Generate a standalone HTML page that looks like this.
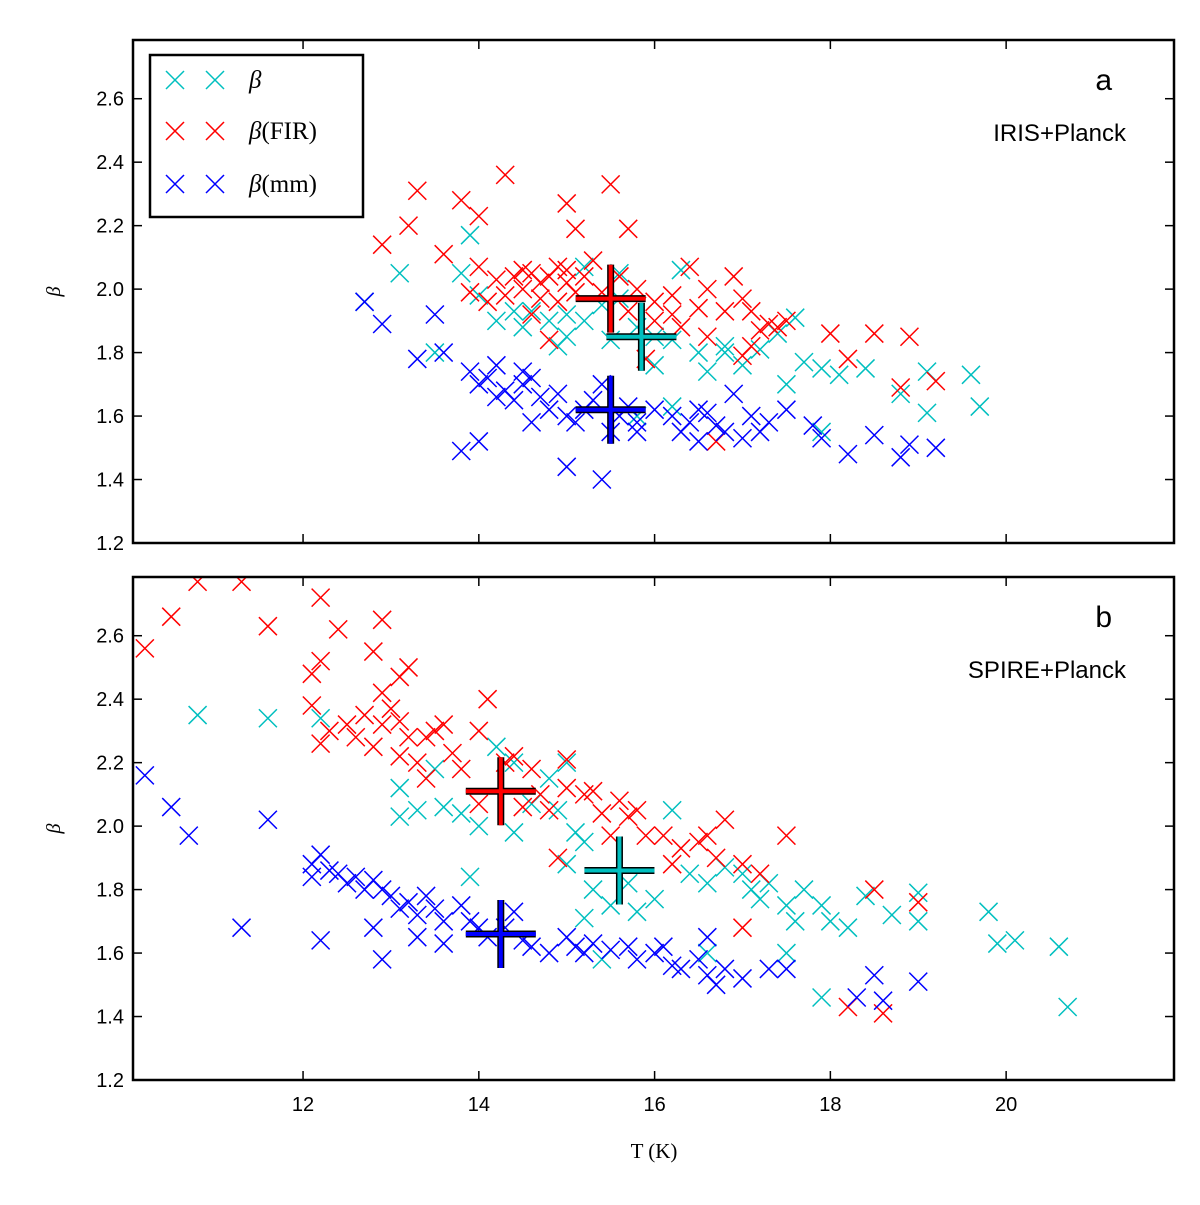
<!DOCTYPE html>
<html><head><meta charset="utf-8"><style>body{margin:0;background:#fff}svg{display:block}</style></head>
<body>
<svg id="chart" width="1200" height="1205" xmlns="http://www.w3.org/2000/svg" font-family="Liberation Sans, sans-serif"></svg>
<script>
// ---- data (T in K, beta) ----
const xTicks = [12, 14, 16, 18, 20];
const yTicks = [1.2, 1.4, 1.6, 1.8, 2.0, 2.2, 2.4, 2.6];
const seriesSuffix = ["", "(FIR)", "(mm)"];
const aCyanT = [12.7,13.1,13.8,13.9,14.0,14.2,14.5,14.6,14.8,15.0,15.2,15.4,15.2,15.6,15.0,14.9,15.5,15.8,16.0,16.2,16.3,16.0,16.5,16.6,16.8,17.0,17.2,17.4,17.6,17.5,17.7,17.9,18.1,18.4,18.8,19.1,19.1,19.6,19.7,17.9,16.8,16.2,15.8,15.6,14.4,13.5];
const aCyanB = [1.96,2.05,2.05,2.17,1.98,1.90,1.88,1.93,1.90,1.92,2.07,1.95,1.90,2.05,1.85,1.82,1.84,1.88,1.85,1.84,2.06,1.76,1.80,1.74,1.82,1.76,1.81,1.86,1.91,1.70,1.77,1.75,1.73,1.75,1.67,1.74,1.61,1.73,1.63,1.55,1.80,1.63,1.60,1.97,1.93,1.80];
const aRedT = [13.3,13.2,12.9,13.6,13.8,14.0,14.3,15.0,15.5,15.7,15.1,15.3,14.0,14.2,14.4,14.5,14.6,14.7,14.8,14.9,15.0,15.2,14.3,14.5,14.7,14.9,15.0,15.1,14.1,14.6,15.4,15.6,15.8,16.0,16.2,16.4,16.6,16.9,17.0,16.8,16.5,16.2,16.0,15.7,16.3,16.6,17.1,17.3,17.5,17.2,17.0,17.1,17.4,18.0,18.2,18.5,18.9,19.2,18.8,16.7,15.9,14.8,13.9];
const aRedB = [2.31,2.20,2.14,2.11,2.28,2.23,2.36,2.27,2.33,2.19,2.19,2.09,2.07,2.03,2.04,2.06,2.05,2.02,2.04,2.07,2.06,2.04,1.98,2.00,1.97,1.96,2.02,1.99,1.96,1.92,1.99,2.04,2.00,1.96,1.98,2.07,2.00,2.04,1.97,1.93,1.94,1.92,1.90,1.93,1.88,1.85,1.93,1.89,1.90,1.87,1.79,1.82,1.88,1.86,1.78,1.86,1.85,1.71,1.69,1.52,1.78,1.84,1.99];
const aBlueT = [12.7,12.9,13.5,13.3,13.6,13.9,14.0,14.1,14.2,14.3,14.4,14.5,14.6,14.7,14.8,14.9,15.0,15.1,15.2,15.3,15.4,15.5,15.6,15.7,15.8,16.0,16.2,16.3,16.4,16.5,16.6,16.7,16.8,17.0,17.1,17.2,17.3,17.5,17.8,17.9,18.2,18.5,18.8,18.9,19.2,14.0,13.8,15.0,15.4,16.9,14.6,14.2,14.5,15.8,16.5];
const aBlueB = [1.96,1.89,1.92,1.78,1.80,1.74,1.70,1.72,1.76,1.68,1.65,1.70,1.72,1.66,1.62,1.67,1.60,1.58,1.62,1.65,1.70,1.55,1.60,1.63,1.58,1.62,1.60,1.55,1.58,1.52,1.61,1.57,1.55,1.53,1.60,1.55,1.58,1.62,1.57,1.53,1.48,1.54,1.47,1.51,1.50,1.52,1.49,1.44,1.40,1.67,1.58,1.66,1.74,1.55,1.62];
const aMeanT = [15.85, 15.5, 15.5];
const aMeanB = [1.85, 1.97, 1.62];
const bCyanT = [10.8,11.6,12.2,13.1,13.1,13.3,13.5,13.6,13.8,14.0,14.2,14.4,14.6,14.8,15.0,14.9,15.1,15.2,15.0,15.3,15.5,15.7,15.8,16.0,16.2,16.4,16.6,16.8,17.0,17.1,17.2,17.3,17.5,17.6,17.7,17.9,18.0,18.2,18.4,18.7,19.0,19.0,19.8,19.9,20.1,20.6,20.7,17.9,17.5,15.4,13.9,14.4,15.2,16.6];
const bCyanB = [2.35,2.34,2.34,2.12,2.03,2.05,2.18,2.06,2.04,2.00,2.25,2.20,2.07,2.15,2.20,2.05,1.98,1.95,1.88,1.80,1.75,1.82,1.73,1.77,2.05,1.85,1.82,1.87,1.85,1.80,1.77,1.82,1.75,1.70,1.80,1.75,1.70,1.68,1.78,1.72,1.70,1.79,1.73,1.63,1.64,1.62,1.43,1.46,1.60,1.58,1.84,1.98,1.71,1.60];
const bRedT = [10.2,10.5,10.8,11.3,11.6,12.1,12.2,12.2,12.4,12.8,12.9,13.2,13.1,12.9,12.1,12.3,12.2,12.5,12.6,12.7,12.8,12.9,13.0,13.1,13.2,13.1,13.3,13.4,13.5,13.6,13.4,13.7,13.8,14.0,14.1,14.3,14.4,14.6,14.5,14.7,14.8,15.0,15.0,15.2,15.3,15.4,15.6,15.7,15.8,15.9,16.1,16.2,16.3,16.5,16.7,16.8,16.6,17.0,17.2,17.5,17.0,18.2,18.6,18.5,19.0,14.9,15.5,14.0];
const bRedB = [2.56,2.66,2.77,2.77,2.63,2.48,2.72,2.52,2.62,2.55,2.65,2.50,2.47,2.42,2.38,2.30,2.26,2.32,2.28,2.35,2.25,2.32,2.37,2.33,2.28,2.22,2.20,2.28,2.30,2.32,2.15,2.23,2.18,2.30,2.40,2.20,2.22,2.18,2.06,2.10,2.05,2.12,2.21,2.10,2.11,2.04,2.08,2.03,2.05,1.97,1.97,1.88,1.93,1.95,1.90,2.02,1.97,1.88,1.85,1.97,1.68,1.43,1.41,1.80,1.76,1.90,1.97,2.07];
const bBlueT = [10.2,10.5,10.7,11.6,11.3,12.2,12.1,12.2,12.1,12.3,12.4,12.5,12.6,12.7,12.8,12.9,13.0,13.1,13.2,13.3,13.4,13.5,13.6,13.8,13.9,14.0,14.1,14.3,14.5,14.6,14.8,15.0,15.1,15.2,15.3,15.5,15.7,15.8,16.0,16.2,16.3,16.5,16.6,16.7,16.8,17.0,17.3,17.5,16.6,12.9,12.8,13.3,13.6,18.3,18.5,18.6,19.0,14.4,16.1];
const bBlueB = [2.16,2.06,1.97,2.02,1.68,1.64,1.88,1.91,1.84,1.86,1.85,1.82,1.84,1.80,1.83,1.80,1.78,1.74,1.76,1.72,1.78,1.74,1.70,1.75,1.70,1.68,1.65,1.68,1.64,1.62,1.60,1.65,1.62,1.60,1.63,1.61,1.62,1.58,1.60,1.56,1.55,1.58,1.53,1.50,1.55,1.52,1.55,1.55,1.65,1.58,1.68,1.65,1.63,1.46,1.53,1.45,1.51,1.73,1.62];
const bMeanT = [15.6, 14.25, 14.25];
const bMeanB = [1.86, 2.11, 1.66];

const colors = ["#00bfbf", "#ff0000", "#0000ff"];
const NS = "http://www.w3.org/2000/svg";
const svg = document.getElementById("chart");
function mk(tag, attrs, parent) {
  const e = document.createElementNS(NS, tag);
  for (const k in attrs) e.setAttribute(k, attrs[k]);
  (parent || svg).appendChild(e);
  return e;
}
const X0 = 133, X1 = 1174, xMin = 10.065, xMax = 21.91;
const sx = t => X0 + (t - xMin) / (xMax - xMin) * (X1 - X0);

function panel(top, bottom, label, sub, cT, cB, rT, rB, bT, bB, mT, mB, showX, name) {
  const yMin = 1.2, yMax = 2.785;
  const sy = b => bottom - (b - yMin) / (yMax - yMin) * (bottom - top);
  const g = mk("g", {});
  
  
  const clip = mk("clipPath", {id: "clip" + name}, g);
  mk("rect", {x: X0, y: top, width: X1 - X0, height: bottom - top}, clip);
  const pts = mk("g", {"clip-path": "url(#clip" + name + ")"}, g);
  const sets = [[cT, cB, 0], [rT, rB, 1], [bT, bB, 2]];
  const h = 9;
  sets.forEach(([T, B, ci]) => {
    const sg = mk("g", {stroke: colors[ci], "stroke-width": 1.5, fill: "none"}, pts);
    
    
    T.forEach((t, i) => {
      const x = sx(t), y = sy(B[i]);
      const p = mk("path", {d: `M${x-h},${y-h}L${x+h},${y+h}M${x-h},${y+h}L${x+h},${y-h}`}, sg);
      
      
    });
  });
  mT.forEach((t, ci) => {
    const x = sx(t), y = sy(mB[ci]);
    const d = `M${x-35},${y}L${x+35},${y}M${x},${y-34}L${x},${y+34}`;
    const mg = mk("g", {}, pts);
    
    
    mk("path", {d, stroke: "#000", "stroke-width": 7}, mg);
    mk("path", {d, stroke: colors[ci], "stroke-width": 4}, mg);
  });
  const tg = mk("g", {stroke: "#000", "stroke-width": 1.5}, g);
  xTicks.forEach(t => {
    const x = sx(t);
    mk("line", {x1: x, y1: bottom, x2: x, y2: bottom - 9}, tg);
    mk("line", {x1: x, y1: top, x2: x, y2: top + 9}, tg);
    if (showX) {
      const tx = mk("text", {x, y: bottom + 31, "font-size": 20, "text-anchor": "middle", stroke: "none"}, g);
      tx.textContent = t;
      
      
    }
  });
  yTicks.forEach(b => {
    const y = sy(b);
    mk("line", {x1: X0, y1: y, x2: X0 + 9, y2: y}, tg);
    mk("line", {x1: X1, y1: y, x2: X1 - 9, y2: y}, tg);
    const ty = mk("text", {x: X0 - 9, y: y + 7, "font-size": 20, "text-anchor": "end"}, g);
    ty.textContent = b.toFixed(1);
    
    
  });
  const fr = mk("rect", {x: X0, y: top, width: X1 - X0, height: bottom - top, fill: "none", stroke: "#000", "stroke-width": 2.5}, g);
  
  
  const yl = mk("text", {x: 0, y: 0, "font-size": 20, "font-style": "italic", "font-family": "Liberation Serif, serif", transform: `translate(60,${(top+bottom)/2}) rotate(-90)`, "text-anchor": "middle"}, g);
  yl.textContent = "β";
  
  
  const la = mk("text", {x: 1112, y: top + 50, "font-size": 30, "text-anchor": "end"}, g);
  la.textContent = label;
  
  
  const ls = mk("text", {x: 1126, y: top + 101, "font-size": 24, "text-anchor": "end"}, g);
  ls.textContent = sub;
  
  
}
panel(40, 543, "a", "IRIS+Planck", aCyanT, aCyanB, aRedT, aRedB, aBlueT, aBlueB, aMeanT, aMeanB, false, "panel-a");
panel(577, 1080, "b", "SPIRE+Planck", bCyanT, bCyanB, bRedT, bRedB, bBlueT, bBlueB, bMeanT, bMeanB, true, "panel-b");

const lg = mk("g", {});


mk("rect", {x: 150, y: 55, width: 213, height: 162, fill: "#fff", stroke: "#000", "stroke-width": 2.5}, lg);
[80, 131, 184].forEach((y, i) => {
  const eg = mk("g", {}, lg);
  
  
  [175, 215].forEach(x => {
    mk("path", {d: `M${x-9},${y-9}L${x+9},${y+9}M${x-9},${y+9}L${x+9},${y-9}`, stroke: colors[i], "stroke-width": 1.5}, eg);
  });
  const t = mk("text", {x: 249, y: y + 8, "font-size": 25, "font-family": "Liberation Serif, serif"}, eg);
  const b = mk("tspan", {"font-style": "italic"}, t);
  b.textContent = "β";
  const s = mk("tspan", {}, t);
  s.textContent = seriesSuffix[i];
});
const xl = mk("text", {x: 654, y: 1158, "font-size": 21, "text-anchor": "middle", "font-family": "Liberation Serif, serif"});
xl.textContent = "T (K)";


</script>
</body></html>
